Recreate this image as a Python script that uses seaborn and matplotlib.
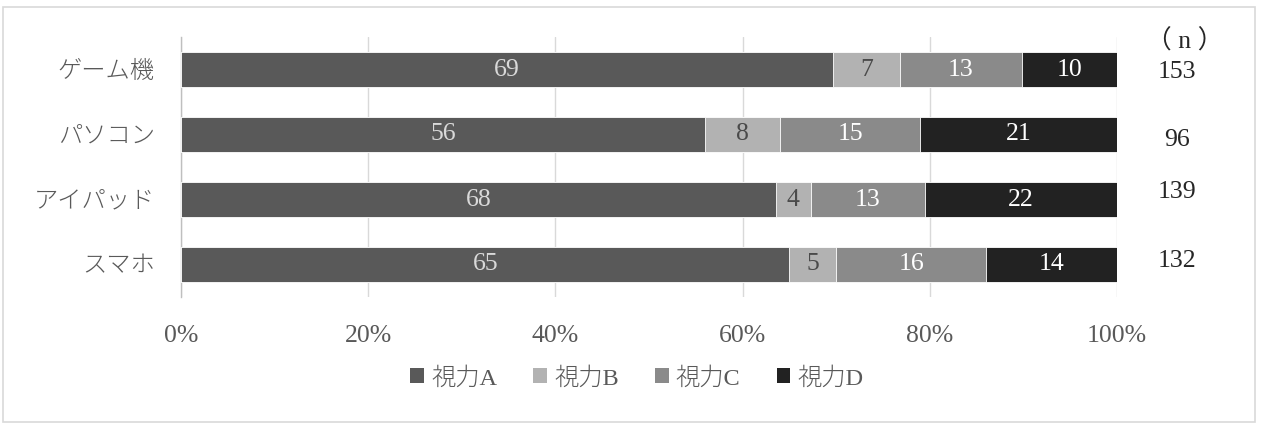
import matplotlib
matplotlib.use("Agg")
import matplotlib.pyplot as plt
import matplotlib.transforms as mtransforms
from matplotlib.patches import Patch, Rectangle
import numpy as np
import pandas as pd
import seaborn as sns

# ---- data ----
categories = ["ゲーム機", "パソコン", "アイパッド", "スマホ"]
series_names = ["視力A", "視力B", "視力C", "視力D"]
vision_a = [69, 56, 68, 65]
vision_b = [7, 8, 4, 5]
vision_c = [13, 15, 13, 16]
vision_d = [10, 21, 22, 14]
n_values = [153, 96, 139, 132]
x_ticks = [0, 20, 40, 60, 80, 100]
x_tick_labels = ["0%", "20%", "40%", "60%", "80%", "100%"]

# ---- style ----
sns.set_theme(style="white")
plt.rcParams["font.family"] = ["Liberation Serif", "Noto Sans CJK JP"]

colors = ["#595959", "#b2b2b2", "#8a8a8a", "#222222"]
label_colors = ["#d9d9d9", "#4a4a4a", "#ffffff", "#ffffff"]
text_gray = "#595959"
fs_num = 18.5
fs_cjk = 17.5

series = [vision_a, vision_b, vision_c, vision_d]
vals = np.array(series, dtype=float)           # shape (4 series, 4 categories)
pct = vals / vals.sum(axis=0) * 100            # 100% stacked
cum = np.cumsum(pct, axis=0)

fig = plt.figure(figsize=(12.64, 4.42), dpi=100)
ax = fig.add_axes([181 / 1264, 1 - 297 / 442, 936 / 1264, 260 / 442])

# draw cumulative bars from the full total down to the first series
for i in range(3, -1, -1):
    df = pd.DataFrame({"cat": categories, "value": cum[i]})
    sns.barplot(data=df, x="value", y="cat", orient="h", color=colors[i],
                saturation=1, width=0.54, edgecolor="white", linewidth=0.6,
                ax=ax, zorder=3)

# data labels
for i in range(4):
    for j in range(len(categories)):
        start = cum[i][j] - pct[i][j]
        center = start + pct[i][j] / 2
        ax.text(center, j, str(series[i][j]), ha="center", va="center",
                color=label_colors[i], fontsize=fs_num, zorder=5)

ax.set_xlim(0, 100)
ax.set_ylim(3.5, -0.5)
ax.set_xticks(x_ticks)
ax.set_xticklabels(x_tick_labels)
ax.set_xlabel("")
ax.set_ylabel("")
ax.xaxis.grid(True, color="#d9d9d9", linewidth=1, zorder=0)
ax.set_axisbelow(True)
ax.tick_params(axis="x", length=0, pad=20, labelsize=fs_num, labelcolor=text_gray)
ax.tick_params(axis="y", length=0, pad=19, labelsize=fs_cjk, labelcolor=text_gray)
for lbl in ax.get_yticklabels():
    lbl.set_fontweight("light")
for s in ["top", "right", "bottom"]:
    ax.spines[s].set_visible(False)
ax.spines["left"].set_color("#bfbfbf")
ax.spines["left"].set_linewidth(1)

# n column
trans = mtransforms.blended_transform_factory(ax.transAxes, ax.transData)
n_offsets = [0.04, 0.08, -0.11, -0.05]
for j, n in enumerate(n_values):
    ax.text(1.064, j + n_offsets[j], str(n), transform=trans, ha="center",
            va="center", fontsize=fs_num, color="#262626")
fig.text(1185 / 1264, 1 - 41 / 442, "（ n ）", ha="center", va="center",
         fontsize=fs_num, color="#262626")

# legend
handles = [Patch(facecolor=c, edgecolor="none") for c in colors]
leg = fig.legend(handles, series_names, loc="center",
                 bbox_to_anchor=(637 / 1264, 1 - 378 / 442),
                 ncol=4, frameon=False, fontsize=fs_cjk, handlelength=0.55,
                 handleheight=0.55, handletextpad=0.3, columnspacing=1.5,
                 labelcolor=text_gray)
for t in leg.get_texts():
    t.set_fontweight("light")

# outer border
fig.patches.append(Rectangle((3 / 1264, 1 - 422 / 442), 1252 / 1264, 415 / 442,
                             transform=fig.transFigure, fill=False,
                             edgecolor="#d9d9d9", linewidth=1.2))

fig.savefig("out.png", dpi=100)
